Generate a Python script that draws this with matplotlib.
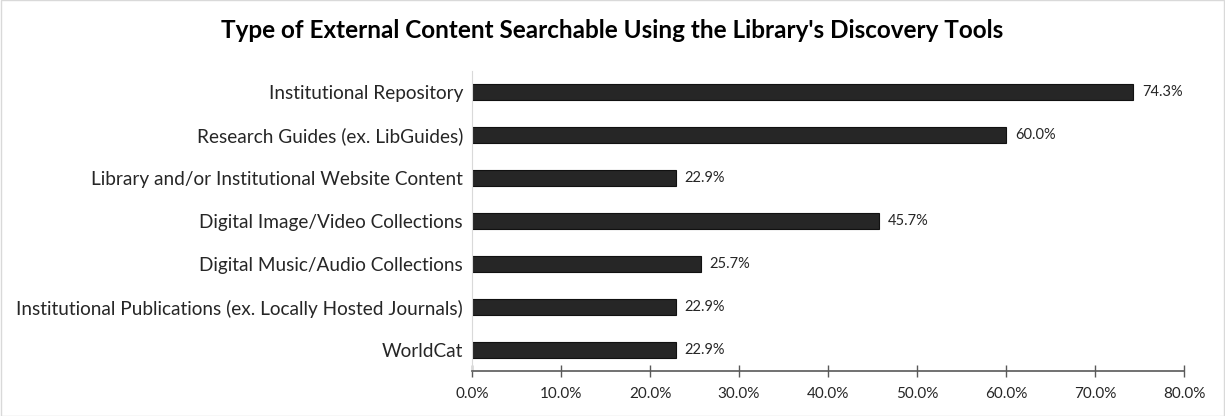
import matplotlib.pyplot as plt
from matplotlib.ticker import FuncFormatter, MultipleLocator

plt.rcParams['font.family'] = ['Lato', 'DejaVu Sans']

categories = [
    "Institutional Repository",
    "Research Guides (ex. LibGuides)",
    "Library and/or Institutional Website Content",
    "Digital Image/Video Collections",
    "Digital Music/Audio Collections",
    "Institutional Publications (ex. Locally Hosted Journals)",
    "WorldCat",
]
values = [74.3, 60.0, 22.9, 45.7, 25.7, 22.9, 22.9]

fig = plt.figure(figsize=(12.25, 4.16), dpi=100)
ax = fig.add_axes([0.3853, 0.107, 0.5812, 0.7235])

pos = list(range(len(categories)))[::-1]
ax.barh(pos, values, height=0.37, color="#262626", edgecolor="#111111", linewidth=0.8)
for y, v in zip(pos, values):
    ax.text(v + 1.0, y, f"{v:.1f}%", va="center", ha="left", fontsize=10.5, color="#262626")

ax.set_xlim(0, 80)
ax.set_ylim(-0.5, len(categories) - 0.5)
ax.set_yticks(pos)
ax.set_yticklabels(categories, fontsize=13.7, color="#262626")
ax.tick_params(axis="y", length=0, pad=6.5)
ax.xaxis.set_major_locator(MultipleLocator(10))
ax.xaxis.set_major_formatter(FuncFormatter(lambda x, _: f"{x:.1f}%"))
ax.tick_params(axis="x", direction="inout", length=9, width=1, color="#595959",
               labelsize=11, labelcolor="#262626", pad=7)

for s in ["top", "right"]:
    ax.spines[s].set_visible(False)
ax.spines["left"].set_color("#d9d9d9")
ax.spines["bottom"].set_color("#595959")
ax.spines["bottom"].set_linewidth(1.2)

fig.suptitle("Type of External Content Searchable Using the Library's Discovery Tools",
             x=0.5, y=0.955, fontsize=17.5, fontweight="bold", color="black")

fig.patches.append(plt.Rectangle((0.001, 0.001), 0.998, 0.998, transform=fig.transFigure,
                                 fill=False, edgecolor="#d9d9d9", linewidth=1))

fig.savefig("out.png", dpi=100)
